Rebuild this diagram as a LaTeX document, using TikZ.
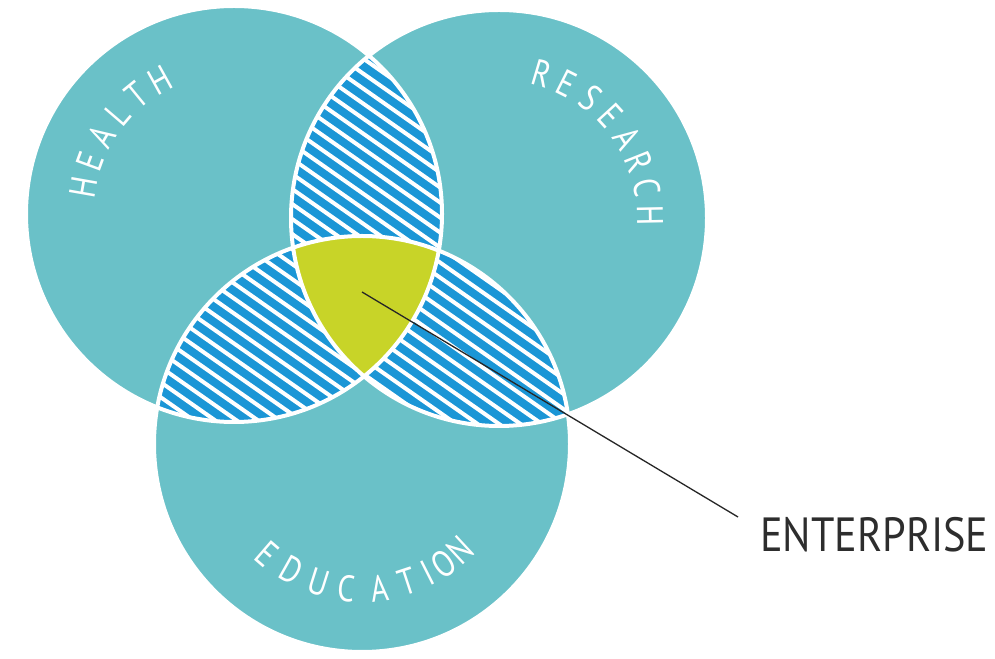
\documentclass[tikz,border=0pt]{standalone}
\usepackage{fontspec}
\newfontfamily\labfont[FakeStretch=0.82]{PT Sans}
\newfontfamily\entfont[FakeStretch=0.88]{PT Sans}
\definecolor{tealc}{RGB}{106,193,200}
\definecolor{bluec}{RGB}{27,150,214}
\definecolor{greenc}{RGB}{200,212,40}
\definecolor{entc}{RGB}{45,45,45}
\newcommand\mystripes{%
  \begin{scope}[shift={(362,330)},rotate=-35]
    \foreach \k in {-40,...,40}{\draw[white,line width=4] (-700,\k*12.3) -- (700,\k*12.3);}
  \end{scope}}
\tikzset{
  labtxt/.style={inner sep=0, text=white, font=\labfont\fontsize{37}{40}\selectfont},
  outline/.style={draw=white, line width=4},
  leader/.style={draw=black!85, line width=1.3}
}
\begin{document}
\begin{tikzpicture}[x=1pt,y=1pt]
\useasboundingbox (0,0) rectangle (995,658);
\fill[white] (0,0) rectangle (995,658);
\def\rad{208}
\coordinate (H) at (234,444);
\coordinate (R) at (499,440);
\coordinate (E) at (362,214);
\fill[tealc] (H) circle[radius=\rad];
\fill[tealc] (R) circle[radius=\rad];
\fill[tealc] (E) circle[radius=\rad];
% pairwise overlaps
\begin{scope}
  \clip (H) circle[radius=\rad]; \clip (R) circle[radius=\rad];
  \fill[bluec] (0,0) rectangle (995,658); \mystripes
\end{scope}
\begin{scope}
  \clip (H) circle[radius=\rad]; \clip (E) circle[radius=\rad];
  \fill[bluec] (0,0) rectangle (995,658); \mystripes
\end{scope}
\begin{scope}
  \clip (R) circle[radius=\rad]; \clip (E) circle[radius=\rad];
  \fill[bluec] (0,0) rectangle (995,658); \mystripes
\end{scope}
% triple overlap
\begin{scope}
  \clip (H) circle[radius=\rad]; \clip (R) circle[radius=\rad];
  \fill[greenc] (E) circle[radius=\rad];
\end{scope}
\draw[outline] (H) circle[radius=\rad];
\draw[outline] (R) circle[radius=\rad];
\draw[outline] (E) circle[radius=\rad];
% labels, letter by letter along arcs
\foreach \ch/\a [count=\i] in {H/170,E/159.8,A/149.6,L/139.4,T/129.2,H/119}
  \node[labtxt, rotate=\a-90] (hl\i) at ([shift={(\a:153)}]H) {\ch};
\foreach \ch/\a [count=\i] in {R/73.5,E/63.2,S/52.8,E/42.5,A/32.1,R/21.8,C/11.5,H/1.1}
  \node[labtxt, rotate=\a-90] (rl\i) at ([shift={(\a:151)}]R) {\ch};
\foreach \ch/\a [count=\i] in {E/229.2,D/240.7,U/252.5,C/263.8,A/277,T/288.3,I/296.9,O/304.5,N/312.8}
  \node[labtxt, rotate=\a+90] (el\i) at ([shift={(\a:145)}]E) {\ch};
% enterprise
\node[anchor=base west, inner sep=0, font=\entfont\fontsize{48}{50}\selectfont, text=entc] (ent) at (760,106) {ENTERPRISE};
\coordinate (ls) at (362,366);
\coordinate (le) at (738,141);
\draw[leader] (ls) -- (le);
\end{tikzpicture}
\end{document}
